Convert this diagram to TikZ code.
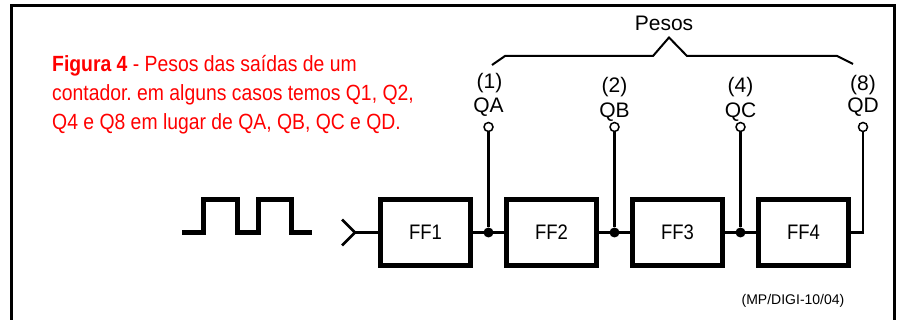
\documentclass[tikz,border=0pt]{standalone}
\usepackage{fontspec}
\setmainfont{Liberation Sans}
\newfontfamily\narrowsf[FakeStretch=0.88]{Liberation Sans}
\usetikzlibrary{positioning,calc}
\frenchspacing

\begin{document}
\begin{tikzpicture}[
    x=1pt, y=-1pt,
    box/.style={draw, line width=5pt, minimum width=90pt, minimum height=66pt, inner sep=0pt, font=\narrowsf\fontsize{21}{24}\selectfont},
    wire/.style={line width=2.5pt},
    dot/.style={circle, fill, inner sep=0pt, minimum size=10pt},
    pin/.style={circle, draw, line width=1.5pt, fill=white, inner sep=0pt, minimum size=9pt},
    lbl/.style={anchor=base, inner sep=0pt, font=\fontsize{21}{24}\selectfont},
    capt/.style={anchor=base west, inner sep=0pt, text=red, font=\narrowsf\fontsize{22}{29}\selectfont}
  ]
    \useasboundingbox (0,0) rectangle (900,320);
    % frame
    \draw[line width=3pt] (11,325) -- (11,5.5) -- (894.7,5.5) -- (894.7,325);

    % caption
    \node[capt] (cap1) at (52,71.7) {\textbf{Figura 4} - Pesos das saídas de um};
    \node[capt] (cap2) at (52,100.5) {contador. em alguns casos temos Q1, Q2,};
    \node[capt] (cap3) at (52,130) {Q4 e Q8 em lugar de QA, QB, QC e QD.};

    % flip-flops
    \node[box] (ff1) at (425.5,232.5) {FF1};
    \node[box, right=31pt of ff1] (ff2) {FF2};
    \node[box, right=31pt of ff2] (ff3) {FF3};
    \node[box, right=31pt of ff3] (ff4) {FF4};

    \node[dot] (j1) at ($(ff1.east)!0.5!(ff2.west)$) {};
    \node[dot] (j2) at ($(ff2.east)!0.5!(ff3.west)$) {};
    \node[dot] (j3) at ($(ff3.east)!0.5!(ff4.west)$) {};

    % outputs
    \coordinate (top) at (0,127);
    \node[pin] (oa) at (j1 |- top) {};
    \node[pin] (ob) at (j2 |- top) {};
    \node[pin] (oc) at (j3 |- top) {};
    \node[pin] (od) at (863,127) {};

    \node[lbl] (qa) at ($(oa)+(0,-14.5)$) {QA};
    \node[lbl] (wa) at ($(oa)+(1,-38)$) {(1)};
    \node[lbl] (qb) at ($(ob)+(0,-9.5)$) {QB};
    \node[lbl] (wb) at ($(ob)+(0,-34)$) {(2)};
    \node[lbl] (qc) at ($(oc)+(0,-9.5)$) {QC};
    \node[lbl] (wc) at ($(oc)+(0,-34)$) {(4)};
    \node[lbl] (qd) at ($(od)+(0,-14.5)$) {QD};
    \node[lbl] (wd) at ($(od)+(0,-36)$) {(8)};
    \node[lbl] (pesos) at (664,31) {Pesos};

    % brace
    \draw[line width=2pt] (492,65) -- (505,56) -- (653,56) -- (669,37.5) -- (687,56) -- (837,56) -- (853,64);

    % clock input
    \coordinate (ck) at (355,232.5);
    \draw[wire] (342,219.5) -- (ck) -- (342,245.5);
    \draw[wire] (ck) -- (ff1.west);
    \draw[line width=5pt, line join=miter] (182,232.5) -- (203,232.5) -- (203,199.5) -- (237,199.5) -- (237,232.5) -- (258,232.5) -- (258,199.5) -- (291,199.5) -- (291,232.5) -- (312,232.5);

    % connections
    \draw[wire] (ff1.east) -- (ff2.west);
    \draw[wire] (ff2.east) -- (ff3.west);
    \draw[wire] (ff3.east) -- (ff4.west);
    \draw[wire] (j1) -- (oa.south);
    \draw[wire] (j2) -- (ob.south);
    \draw[wire] (j3) -- (oc.south);
    \draw[wire] (ff4.east) -- (ff4.east -| od) -- (od.south);

    \node[font=\fontsize{14}{16}\selectfont] (src) at (793,301) {(MP/DIGI-10/04)};
  \end{tikzpicture}
\end{document}
